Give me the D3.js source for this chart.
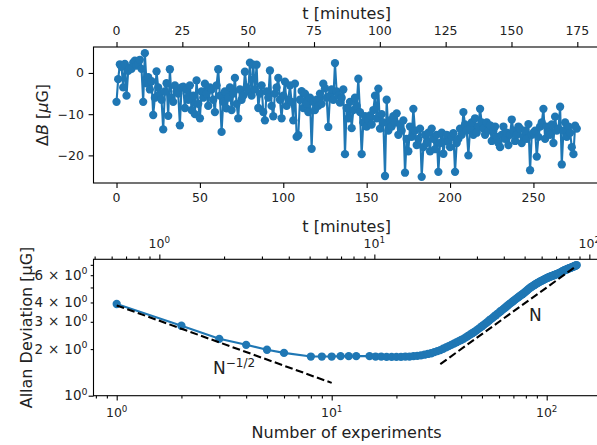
<!DOCTYPE html>
<html><head><meta charset="utf-8">
<script src="https://cdn.jsdelivr.net/npm/d3@7"></script>
<style>
body{margin:0;background:#fff;}
svg{display:block;font-family:"DejaVu Sans",sans-serif;}
</style></head><body>
<svg id="c" width="597" height="445"></svg>
<script>
// ---------------- DATA ----------------
const deltaB = [
 -7.0, -1.5, 2.1, 1.5, -3.5, 2.2, -5.5, 0.5, 1.2, 1.0,
 2.5, 3.0, 1.8, 2.2, 3.2, 1.0, -7.0, 4.8, -2.5, -1.0,
 -4.0, -2.0, -10.2, -6.0, 0.4, -3.5, -5.0, -6.5, -13.7, -4.5,
 -2.5, -10.4, 0.9, -6.0, -7.0, -3.0, -4.5, -5.0, -12.7, -3.5,
 -3.3, -8.5, -4.0, -6.5, -3.0, -9.0, -5.5, -10.0, -1.8, -7.5,
 -11.0, -4.5, -6.0, -2.6, -5.0, -8.0, -3.5, -4.0, -6.5, -9.5,
 -3.0, 0.9, -5.5, -14.3, -7.0, -4.5, -8.6, -6.0, -3.5, -9.0,
 -5.0, -1.2, -7.5, -11.0, -4.0, -6.5, -5.5, 0.3, -3.5, -4.5,
 2.5, -5.5, 2.0, -4.0, 2.0, -8.5, -5.0, -3.0, -9.5, -11.5,
 -4.5, -6.0, 0.6, -8.0, -10.5, -5.0, -3.5, -1.2, -6.5, -11.0,
 -5.5, -2.1, -8.0, -6.5, -3.0, -7.0, -11.5, -2.6, -15.5, -15.1,
 -6.5, -4.4, -8.5, -5.0, -7.5, -9.5, -6.0, -18.4, -7.0, -9.0,
 -6.5, -8.0, -5.0, -7.5, -2.6, -3.7, -6.0, -13.1, -5.5, -4.0,
 -6.5, 2.4, -4.5, -5.5, -7.2, -6.0, -4.0, -19.7, -8.5, -11.0,
 -7.0, -13.4, -9.0, -6.0, -8.0, -1.4, -9.5, -19.7, -12.0, -10.5,
 -13.0, -11.5, -10.3, -12.5, -9.0, -5.5, -11.0, -3.8, -13.5, -10.0,
 -12.0, -25.0, -6.5, -14.0, -11.5, -13.0, -10.5, -12.0, -9.8, -15.0,
 -12.5, -14.0, -11.5, -24.2, -16.0, -19.0, -13.0, -15.5, -8.7, -14.0,
 -17.5, -16.0, -13.5, -25.2, -18.0, -15.0, -17.0, -14.5, -19.0, -13.5,
 -16.0, -18.5, -15.0, -24.0, -17.0, -14.5, -19.6, -16.5, -15.0, -16.7,
 -18.0, -15.5, -14.6, -24.0, -17.0, -16.0, -13.5, -15.0, -9.5, -12.5,
 -14.0, -20.0, -13.5, -12.0, -15.0, -11.0, -14.5, -13.0, -8.7, -12.0,
 -13.5, -15.0, -12.0, -14.0, -12.7, -16.5, -14.0, -13.0, -15.5, -17.0,
 -18.0, -15.0, -13.0, -16.0, -14.5, -17.5, -15.0, -11.3, -14.0, -16.5,
 -15.0, -13.0, -13.5, -17.0, -15.5, -14.0, -16.0, -12.4, -23.6, -15.0,
 -14.5, -14.0, -20.3, -15.5, -13.0, -12.0, -8.7, -16.0, -13.0, -14.5,
 -15.0, -12.5, -17.0, -10.6, -14.0, -13.5, -8.2, -22.2, -14.0, -12.0,
 -15.5, -13.0, -14.5, -18.0, -19.7, -12.8, -13.5
];

const allanN = [1,2,3,4,5,6,8,9,10,11,12,13,
 15,16,17,18,19,20,21,22,23,24,25,26,27,28,29,30,31,32,33,34,35,36,37,38,39,40,
 41,42,43,44,45,46,47,48,49,50,51,52,53,54,55,56,57,58,59,60,61,62,63,64,65,66,67,68,69,70,
 71,72,73,74,75,76,77,78,79,80,81,82,83,84,85,86,87,88,89,90,91,92,93,94,95,96,97,98,99,100,
 101,102,103,104,105,106,107,108,109,110,111,112,113,114,115,116,117,118,119,120,
 121,122,123,124,125,126,127,128,129,130,131,132,133,134,135,136,137,138];

const allanDev = [3.91,2.83,2.33,2.13,1.98,1.89,1.79,1.79,1.79,1.80,1.80,1.80,
 1.80,1.79,1.79,1.78,1.78,1.78,1.78,1.79,1.79,1.80,1.81,1.82,1.84,1.86,1.88,1.91,1.94,1.97,2.01,2.05,2.09,2.13,2.17,2.21,2.25,2.29,
 2.33,2.38,2.43,2.48,2.53,2.58,2.63,2.69,2.75,2.81,2.87,2.93,2.99,3.06,3.12,3.18,3.25,3.31,3.38,3.44,3.51,3.57,3.64,3.70,3.77,3.83,3.90,3.96,4.03,4.09,
 4.16,4.22,4.28,4.34,4.40,4.46,4.52,4.58,4.65,4.72,4.79,4.86,4.93,4.99,5.05,5.10,5.16,5.21,5.26,5.31,5.36,5.41,5.45,5.50,5.54,5.58,5.62,5.66,5.70,5.74,
 5.78,5.81,5.85,5.88,5.91,5.94,5.97,6.00,6.03,6.06,6.09,6.12,6.15,6.19,6.22,6.26,6.30,6.34,6.38,6.42,
 6.46,6.49,6.52,6.55,6.58,6.61,6.64,6.67,6.70,6.73,6.76,6.79,6.82,6.85,6.88,6.91,6.94,6.97];

// reference slopes (dashed)
const halfLineN = [1, 10];
const halfLineV = [3.83, 1.21];
const oneLineN = [32, 137];
const oneLineV = [1.60, 6.85];

// tick labels
const topBottomTicks = [0, 50, 100, 150, 200, 250];
const topMinuteTicks = [0, 25, 50, 75, 100, 125, 150, 175];
const topYTicks = [0, -10, -20];
const logMajorTicks = [1, 10, 100];
const logMinorTicks = [0.2,0.3,0.4,0.5,0.6,0.7,0.8,0.9,2,3,4,5,6,7,8,9,20,30,40,50,60,70,80,90,200,300];
const yLogMinorTicks = [2, 3, 4, 5, 6, 7];
const yLogMinorLabels = [2, 3, 4, 6];
const minutesPerExperiment = 38 / 60;

// ---------------- DRAW ----------------
const svg = d3.select("#c");
svg.append("rect").attr("width", 597).attr("height", 445).attr("fill", "#fff");
const BLUE = "#1f77b4";
const TXT = "#222";
const TICKFS = 12.5, LABFS = 16;
const L = 93.5, R = 599.8;

function styleAxis(g) {
  g.select(".domain").remove();
  g.selectAll(".tick line").attr("stroke", "#000").attr("stroke-width", 1.1);
  g.selectAll(".tick text").remove();
}
function frame(top, bot) {
  svg.append("rect").attr("x", L).attr("y", top).attr("width", R - L).attr("height", bot - top)
    .attr("fill", "none").attr("stroke", "#000").attr("stroke-width", 1.1);
}

// ===== Top panel =====
const T1 = 47, B1 = 183;
const x1 = d3.scaleLinear().domain([-13.8, 289.8]).range([L, R]);
const x1t = d3.scaleLinear().domain([-13.8 * minutesPerExperiment, 289.8 * minutesPerExperiment]).range([L, R]);
const y1 = d3.scaleLinear().domain([-26.7, 6.3]).range([B1, T1]);

const g1 = svg.append("g");
const lineGen1 = d3.line().x((d, i) => x1(i)).y(d => y1(d));
g1.append("path").datum(deltaB).attr("d", lineGen1).attr("fill", "none")
  .attr("stroke", BLUE).attr("stroke-width", 2.1).attr("stroke-linejoin", "round");
g1.selectAll("circle").data(deltaB).join("circle")
  .attr("cx", (d, i) => x1(i)).attr("cy", d => y1(d)).attr("r", 4.15).attr("fill", BLUE);

frame(T1, B1);
const ax1b = svg.append("g").attr("transform", `translate(0,${B1})`)
  .call(d3.axisBottom(x1).tickValues(topBottomTicks).tickSize(4.9));
styleAxis(ax1b);
svg.append("g").selectAll("text").data(topBottomTicks).join("text")
  .attr("x", d => x1(d)).attr("y", 202.3).attr("text-anchor", "middle")
  .attr("font-size", TICKFS).attr("fill", TXT).text(d => d);

const ax1t = svg.append("g").attr("transform", `translate(0,${T1})`)
  .call(d3.axisTop(x1t).tickValues(topMinuteTicks).tickSize(4.9));
styleAxis(ax1t);
svg.append("g").selectAll("text").data(topMinuteTicks).join("text")
  .attr("x", d => x1t(d)).attr("y", 34.7).attr("text-anchor", "middle")
  .attr("font-size", TICKFS).attr("fill", TXT).text(d => d);

const ax1l = svg.append("g").attr("transform", `translate(${L},0)`)
  .call(d3.axisLeft(y1).tickValues(topYTicks).tickSize(4.9));
styleAxis(ax1l);
svg.append("g").selectAll("text").data(topYTicks).join("text")
  .attr("x", 84).attr("y", d => y1(d) + 4.4).attr("text-anchor", "end")
  .attr("font-size", TICKFS).attr("fill", TXT).text(d => d === 0 ? "0" : "\u2212" + Math.abs(d));

svg.append("text").attr("x", (L + R) / 2).attr("y", 18.5).attr("text-anchor", "middle")
  .attr("font-size", LABFS).attr("fill", TXT).text("t [minutes]");
{
  const t = svg.append("text").attr("transform", `translate(48,${(T1 + B1) / 2}) rotate(-90)`)
    .attr("text-anchor", "middle").attr("font-size", LABFS).attr("fill", TXT);
  t.append("tspan").text("\u0394");
  t.append("tspan").attr("font-style", "italic").text("B");
  t.append("tspan").text(" [");
  t.append("tspan").attr("font-style", "italic").text("\u03bc");
  t.append("tspan").text("G]");
}

// ===== Bottom panel =====
const T2 = 259.3, B2 = 395.7;
const x2 = d3.scaleLog().domain([0.780, 176.6]).range([L, R]);
const x2t = d3.scaleLog().domain([0.780 * minutesPerExperiment, 176.6 * minutesPerExperiment]).range([L, R]);
const y2 = d3.scaleLog().domain([1, 7.6]).range([B2, T2]);

const g2 = svg.append("g");
const lineGen2 = d3.line().x(d => x2(d[0])).y(d => y2(d[1]));
const allanPts = allanN.map((n, i) => [n, allanDev[i]]);
g2.append("path").datum(allanPts).attr("d", lineGen2).attr("fill", "none")
  .attr("stroke", BLUE).attr("stroke-width", 2.1);
g2.selectAll("circle").data(allanPts).join("circle")
  .attr("cx", d => x2(d[0])).attr("cy", d => y2(d[1])).attr("r", 4.15).attr("fill", BLUE);

const dashLine = (ns, vs) => g2.append("path")
  .datum(ns.map((n, i) => [n, vs[i]])).attr("d", lineGen2)
  .attr("fill", "none").attr("stroke", "#000").attr("stroke-width", 2.1)
  .attr("stroke-dasharray", "7.8,3.4");
dashLine(halfLineN, halfLineV);
dashLine(oneLineN, oneLineV);

// annotations
{
  const a = svg.append("text").attr("x", 213).attr("y", 373.5).attr("font-size", 17).attr("fill", TXT);
  a.append("tspan").text("N");
  a.append("tspan").attr("font-size", 12).attr("dy", -7).text("\u22121/2");
  svg.append("text").attr("x", 529).attr("y", 320.7).attr("font-size", 17).attr("fill", TXT).text("N");
}

frame(T2, B2);
const inRange = (s) => (v) => { const r = s(v); return r >= L - 0.5 && r <= R + 0.5; };
const ax2b = svg.append("g").attr("transform", `translate(0,${B2})`)
  .call(d3.axisBottom(x2).tickValues(logMajorTicks.filter(inRange(x2))).tickSize(4.9));
styleAxis(ax2b);
const ax2bm = svg.append("g").attr("transform", `translate(0,${B2})`)
  .call(d3.axisBottom(x2).tickValues(logMinorTicks.filter(inRange(x2))).tickSize(2.8));
styleAxis(ax2bm);
const ax2t = svg.append("g").attr("transform", `translate(0,${T2})`)
  .call(d3.axisTop(x2t).tickValues(logMajorTicks.filter(inRange(x2t))).tickSize(4.9));
styleAxis(ax2t);
const ax2tm = svg.append("g").attr("transform", `translate(0,${T2})`)
  .call(d3.axisTop(x2t).tickValues(logMinorTicks.filter(inRange(x2t))).tickSize(2.8));
styleAxis(ax2tm);
const ax2l = svg.append("g").attr("transform", `translate(${L},0)`)
  .call(d3.axisLeft(y2).tickValues([1]).tickSize(4.9));
styleAxis(ax2l);
const ax2lm = svg.append("g").attr("transform", `translate(${L},0)`)
  .call(d3.axisLeft(y2).tickValues(yLogMinorTicks).tickSize(2.8));
styleAxis(ax2lm);

function pow10Label(sel, x, y, exp, anchor, prefix, fs) {
  fs = fs || TICKFS;
  const t = sel.append("text").attr("x", x).attr("y", y).attr("text-anchor", anchor)
    .attr("font-size", fs).attr("fill", TXT);
  if (prefix) {
    t.append("tspan").text(prefix);
    t.append("tspan").attr("dx", 5).text("\u00d7");
    t.append("tspan").attr("dx", 5).text("10");
  } else {
    t.append("tspan").text("10");
  }
  t.append("tspan").attr("font-size", fs * 0.7).attr("dy", -fs * 0.4).text(exp);
  return t;
}
const expOf = v => String(Math.round(Math.log10(v)));
logMajorTicks.filter(inRange(x2)).forEach(v => pow10Label(svg, x2(v), 416.5, expOf(v), "middle"));
logMajorTicks.filter(inRange(x2t)).forEach(v => pow10Label(svg, x2t(v), 247.5, expOf(v), "middle"));
pow10Label(svg, 87.5, y2(1) + 4.6, "0", "end", null, 13.5);
yLogMinorLabels.forEach(v => pow10Label(svg, 87.5, y2(v) + 4.6, "0", "end", String(v), 13.5));

svg.append("text").attr("x", (L + R) / 2).attr("y", 231.5).attr("text-anchor", "middle")
  .attr("font-size", LABFS).attr("fill", TXT).text("t [minutes]");
svg.append("text").attr("x", (L + R) / 2).attr("y", 438).attr("text-anchor", "middle")
  .attr("font-size", LABFS).attr("fill", TXT).text("Number of experiments");
svg.append("text").attr("transform", `translate(31.5,${(T2 + B2) / 2}) rotate(-90)`)
  .attr("text-anchor", "middle").attr("font-size", LABFS).attr("fill", TXT)
  .text("Allan Deviation [\u03bcG]");
</script>
</body></html>
